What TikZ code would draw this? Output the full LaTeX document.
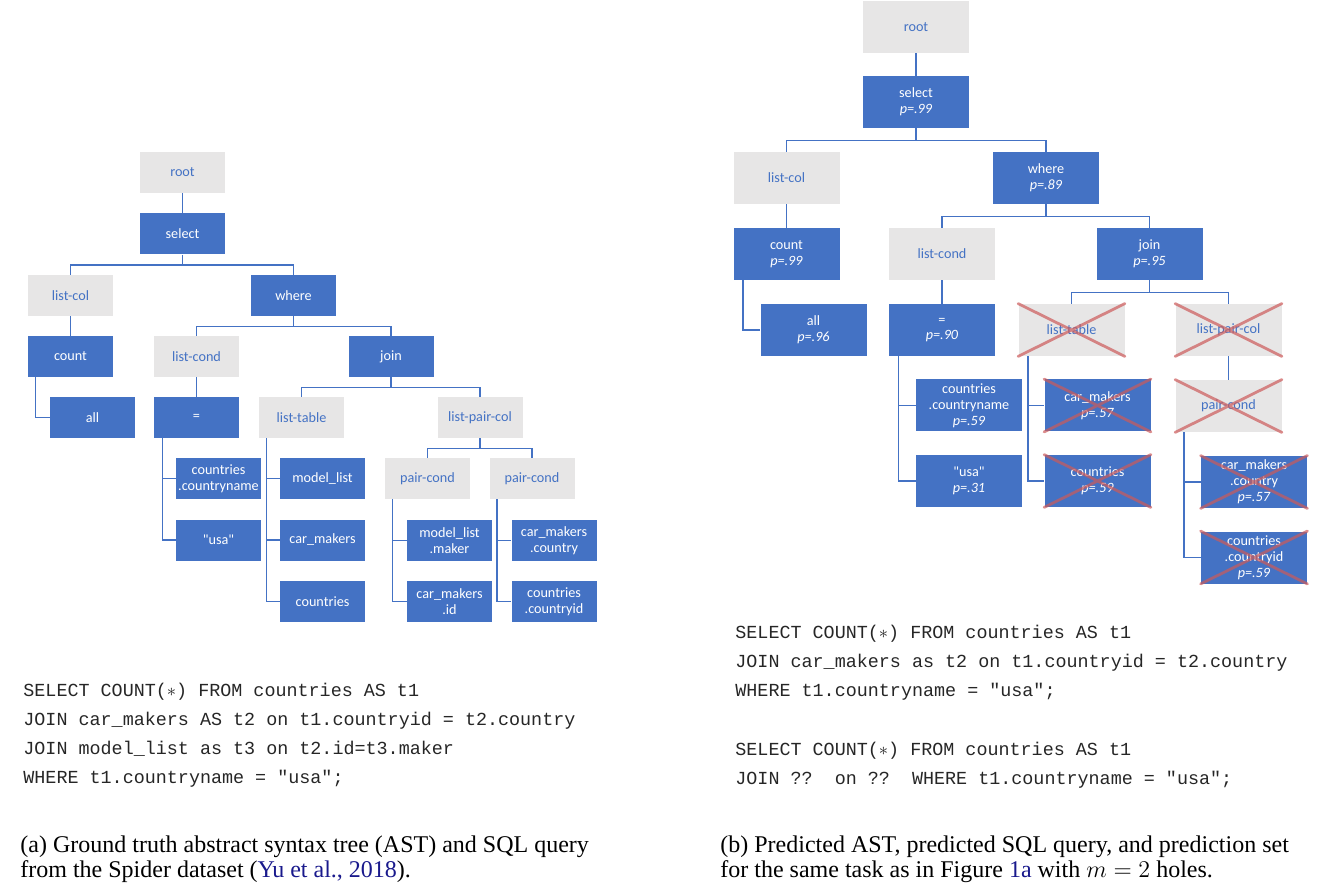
\documentclass[tikz,border=0pt]{standalone}
\usepackage{fontspec}
\setmainfont{Liberation Serif}
\setmonofont{Liberation Mono}
\newfontfamily\boxfont{Carlito}
\definecolor{astblue}{HTML}{4472C4}
\definecolor{astgray}{HTML}{E7E6E6}
\definecolor{citeblue}{rgb}{0.1,0.1,0.55}
\definecolor{crossred}{HTML}{CC5A5A}
\newcommand{\crossnode}[1]{\draw[cross] (#1.north west) -- (#1.south east) (#1.south west) -- (#1.north east);}

\begin{document}
\begin{tikzpicture}[x=0.5pt,y=-0.5pt,
  gbox/.style={fill=astgray, text=astblue, font=\boxfont\fontsize{7.1}{7.9}\selectfont, align=center, inner sep=0pt},
  bbox/.style={fill=astblue, text=white, font=\boxfont\fontsize{7.1}{7.9}\selectfont, align=center, inner sep=0pt},
  sm/.style={minimum width=42.5pt, minimum height=20.5pt},
  lg/.style={minimum width=53pt, minimum height=26pt},
  edge/.style={draw=astblue, line width=0.7pt},
  cross/.style={draw=crossred, line width=1.4pt, opacity=0.7, line cap=round},
  code/.style={font=\ttfamily\fontsize{9.2}{14.5}\selectfont, align=left, inner sep=0pt, text=black!85},
  caption/.style={font=\fontsize{12}{12.5}\selectfont, align=left, inner sep=0pt}]
  \useasboundingbox (0,0) rectangle (1320,886);

  % (a) ground truth tree
  \node[gbox,sm] (root) at (182.5,172.5) {root};
  \node[bbox,sm] (select) at (182.5,234) {select};
  \node[gbox,sm] (listcol) at (70.5,295.5) {list-col};
  \node[bbox,sm] (where) at (293.5,295.5) {where};
  \node[bbox,sm] (count) at (70.5,356.5) {count};
  \node[gbox,sm] (listcond) at (196.5,356.5) {list-cond};
  \node[bbox,sm] (join) at (391,356.5) {join};
  \node[bbox,sm] (all) at (92.5,417.5) {all};
  \node[bbox,sm] (eq) at (196.5,417.5) {=};
  \node[gbox,sm] (listtable) at (301.5,417.5) {list-table};
  \node[gbox,sm] (listpaircol) at (480,417.5) {list-pair-col};
  \node[bbox,sm] (ccname) at (218.5,478.5) {countries\\.countryname};
  \node[bbox,sm] (modellist) at (322.5,478.5) {model\_list};
  \node[gbox,sm] (paircondA) at (427.5,478.5) {pair-cond};
  \node[gbox,sm] (paircondB) at (532,478.5) {pair-cond};
  \node[bbox,sm] (usa) at (218.5,540) {"usa"};
  \node[bbox,sm] (carmakers) at (322.5,540) {car\_makers};
  \node[bbox,sm] (mlmaker) at (449.5,540.5) {model\_list\\.maker};
  \node[bbox,sm] (cmcountry) at (554,540.5) {car\_makers\\.country};
  \node[bbox,sm] (countries) at (322.5,601.5) {countries};
  \node[bbox,sm] (cmid) at (449.5,601.5) {car\_makers\\.id};
  \node[bbox,sm] (ccid) at (554,601.5) {countries\\.countryid};

  \draw[edge] (root) -- (select);
  \draw[edge] (select.south) -- ++(0,10) -| (listcol.north);
  \draw[edge] (select.south) -- ++(0,10) -| (where.north);
  \draw[edge] (listcol) -- (count);
  \draw[edge] (where.south) -- ++(0,10) -| (listcond.north);
  \draw[edge] (where.south) -- ++(0,10) -| (join.north);
  \draw[edge] (count.south west) ++(8,0) |- (all.west);
  \draw[edge] (listcond) -- (eq);
  \draw[edge] (join.south) -- ++(0,10) -| (listtable.north);
  \draw[edge] (join.south) -- ++(0,10) -| (listpaircol.north);
  \draw[edge] (eq.south west) ++(9,0) |- (ccname.west) (eq.south west) ++(9,0) |- (usa.west);
  \draw[edge] (listtable.south west) ++(8,0) |- (modellist.west) (listtable.south west) ++(8,0) |- (carmakers.west)
    (listtable.south west) ++(8,0) |- (countries.west);
  \draw[edge] (listpaircol.south) -- ++(0,10) -| (paircondA.north);
  \draw[edge] (listpaircol.south) -- ++(0,10) -| (paircondB.north);
  \draw[edge] (paircondA.south west) ++(8,0) |- (mlmaker.west) (paircondA.south west) ++(8,0) |- (cmid.west);
  \draw[edge] (paircondB.south west) ++(8,0) |- (cmcountry.west) (paircondB.south west) ++(8,0) |- (ccid.west);

  % (b) predicted tree
  \node[gbox,lg] (proot) at (916,27) {root};
  \node[bbox,lg] (pselect) at (916,102) {select\\\textit{p=.99}};
  \node[gbox,lg] (plistcol) at (786.5,178) {list-col};
  \node[bbox,lg] (pwhere) at (1046,178) {where\\\textit{p=.89}};
  \node[bbox,lg] (pcount) at (786.5,254) {count\\\textit{p=.99}};
  \node[gbox,lg] (plistcond) at (942,254) {list-cond};
  \node[bbox,lg] (pjoin) at (1149.5,254) {join\\\textit{p=.95}};
  \node[bbox,lg] (pall) at (813.5,330) {all\\\textit{p=.96}};
  \node[bbox,lg] (peq) at (942,330) {=\\\textit{p=.90}};
  \node[gbox,lg] (plisttable) at (1071.5,330) {list-table};
  \node[gbox,lg] (plistpaircol) at (1228.5,330) {list-pair-col};
  \node[bbox,lg] (pccname) at (969,405.5) {countries\\.countryname\\\textit{p=.59}};
  \node[bbox,lg] (pcarmakers) at (1097.5,405.5) {car\_makers\\\textit{p=.57}};
  \node[gbox,lg] (ppaircond) at (1228.5,406) {pair-cond};
  \node[bbox,lg] (pusa) at (969,481) {"usa"\\\textit{p=.31}};
  \node[bbox,lg] (pcountries) at (1097.5,481) {countries\\\textit{p=.59}};
  \node[bbox,lg] (pcmcountry) at (1254,482) {car\_makers\\.country\\\textit{p=.57}};
  \node[bbox,lg] (pccid) at (1254,557.5) {countries\\.countryid\\\textit{p=.59}};

  \draw[edge] (proot) -- (pselect);
  \draw[edge] (pselect.south) -- ++(0,12) -| (plistcol.north);
  \draw[edge] (pselect.south) -- ++(0,12) -| (pwhere.north);
  \draw[edge] (plistcol) -- (pcount);
  \draw[edge] (pwhere.south) -- ++(0,12) -| (plistcond.north);
  \draw[edge] (pwhere.south) -- ++(0,12) -| (pjoin.north);
  \draw[edge] (pcount.south west) ++(10,0) |- (pall.west);
  \draw[edge] (plistcond) -- (peq);
  \draw[edge] (pjoin.south) -- ++(0,12) -| (plisttable.north);
  \draw[edge] (pjoin.south) -- ++(0,12) -| (plistpaircol.north);
  \draw[edge] (peq.south west) ++(10,0) |- (pccname.west) (peq.south west) ++(10,0) |- (pusa.west);
  \draw[edge] (plisttable.south west) ++(10,0) |- (pcarmakers.west) (plisttable.south west) ++(10,0) |- (pcountries.west);
  \draw[edge] (plistpaircol) -- (ppaircond);
  \draw[edge] (ppaircond.south west) ++(9,0) |- (pcmcountry.west) (ppaircond.south west) ++(9,0) |- (pccid.west);

  \crossnode{plisttable}
  \crossnode{plistpaircol}
  \crossnode{ppaircond}
  \crossnode{pcarmakers}
  \crossnode{pcountries}
  \crossnode{pcmcountry}
  \crossnode{pccid}

  % queries
  \node[code, anchor=north west] (sqlgt) at (23,683) {SELECT COUNT($\ast$) FROM countries AS t1\\
    JOIN car\_makers AS t2 on t1.countryid = t2.country\\
    JOIN model\_list as t3 on t2.id=t3.maker\\
    WHERE t1.countryname = "usa";};
  \node[code, anchor=north west] (sqlpred) at (735,625) {SELECT COUNT($\ast$) FROM countries AS t1\\
    JOIN car\_makers as t2 on t1.countryid = t2.country\\
    WHERE t1.countryname = "usa";};
  \node[code, anchor=north west] (sqlset) at (735,742) {SELECT COUNT($\ast$) FROM countries AS t1\\
    JOIN ??~~on ??~~WHERE t1.countryname = "usa";};

  % captions
  \node[caption, anchor=north west] (capa) at (20,835) {(a) Ground truth abstract syntax tree (AST) and SQL query\\
    from the Spider dataset (\textcolor{citeblue}{Yu et al., 2018}).};
  \node[caption, anchor=north west] (capb) at (720,835) {(b) Predicted AST, predicted SQL query, and prediction set\\
    for the same task as in Figure \textcolor{citeblue}{1a} with $m=2$ holes.};
\end{tikzpicture}
\end{document}
